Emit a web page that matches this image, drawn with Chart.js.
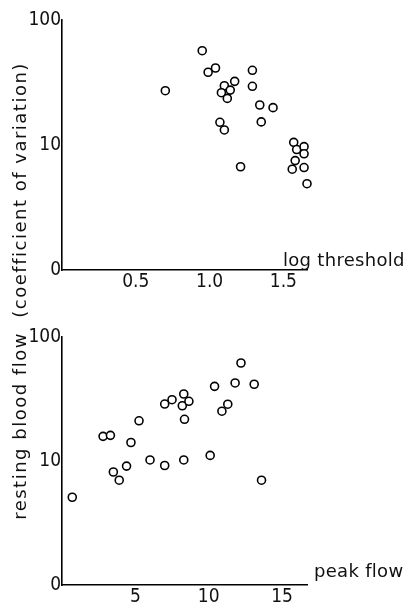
<!DOCTYPE html>
<html>
<head>
<meta charset="utf-8">
<script src="https://cdn.jsdelivr.net/npm/chart.js@4.4.1/dist/chart.umd.min.js"></script>
<style>
  html, body { margin: 0; padding: 0; background: #fff; }
  body { width: 407px; height: 607px; position: relative; overflow: hidden; }
  #c1 { position: absolute; left: 0; top: 0; }
  #c2 { position: absolute; left: 0; top: 300px; }
  .t { position: absolute; font-family: "DejaVu Sans", sans-serif; font-size: 18px; line-height: 18px; color: #111; white-space: nowrap; letter-spacing: 0.3px; }
  #ylab { left: -230px; top: 282px; width: 500px; text-align: center; transform: rotate(-90deg); font-size: 18px; letter-spacing: 1.5px; }
</style>
</head>
<body>
<canvas id="c1" width="407" height="300"></canvas>
<canvas id="c2" width="407" height="307"></canvas>
<div class="t" id="xl1" style="left:283px; top:251px;">log threshold</div>
<div class="t" id="xl2" style="left:314px; top:562px;">peak flow</div>
<div class="t" id="ylab">resting blood flow&nbsp;&nbsp;(coefficient of variation)</div>
<script>
// ---- data ----
const topX = [0.95, 0.70, 0.99, 1.04, 1.10, 1.08, 1.14, 1.12, 1.17, 1.07, 1.10, 1.29, 1.29, 1.34, 1.43, 1.35, 1.21, 1.57, 1.59, 1.64, 1.64, 1.58, 1.56, 1.64, 1.66];
const topY = [56.8, 27.2, 38.2, 41.3, 29.8, 26.2, 27.5, 23.6, 32.3, 15.2, 13.2, 39.6, 29.5, 20.9, 19.9, 15.3, 6.7, 10.5, 9.2, 9.7, 8.5, 7.5, 6.4, 6.6, 4.9];
const topXTicks = [0.5, 1.0, 1.5];

const botX = [0.7, 2.8, 3.3, 3.5, 3.9, 4.4, 4.7, 5.25, 6.0, 7.0, 7.0, 7.5, 8.3, 8.2, 8.65, 8.35, 8.3, 10.1, 10.4, 10.9, 11.3, 11.8, 12.2, 13.1, 13.6];
const botY = [5.1, 15.8, 16.1, 8.15, 7.0, 9.1, 14.1, 21.1, 10.2, 9.2, 28.8, 31.2, 34.7, 27.9, 30.3, 21.7, 10.2, 11.1, 40.0, 25.2, 28.7, 42.6, 61.7, 41.6, 7.0];
const botXTicks = [5, 10, 15];

const yTicks = [1, 10, 100];
const yTickLabels = ["0", "10", "100"];

const tickFont = { family: '"DejaVu Sans Condensed", "Liberation Sans Narrow", "DejaVu Sans", sans-serif', size: 19, weight: 'condensed' };

function makeChart(id, xs, ys, xTicks, xMax, xDecimals, padTop, xHeight) {
  const pts = xs.map((x, i) => ({ x: x, y: ys[i] }));
  return new Chart(document.getElementById(id), {
    type: 'scatter',
    data: { datasets: [{
      data: pts,
      clip: false,
      pointRadius: 4,
      pointHoverRadius: 4,
      pointBorderWidth: 1.6,
      pointBorderColor: '#000',
      pointBackgroundColor: '#fff'
    }]},
    options: {
      responsive: false,
      animation: false,
      events: [],
      layout: { padding: { top: padTop, right: 100, left: 0, bottom: 0 } },
      plugins: { legend: { display: false }, tooltip: { enabled: false } },
      scales: {
        x: {
          type: 'linear', min: 0, max: xMax,
          grid: { display: false, drawTicks: false },
          border: { display: true, color: '#000', width: 1.6 },
          afterBuildTicks: (s) => { s.ticks = xTicks.map(v => ({ value: v })); },
          afterFit: (s) => { s.height = xHeight; },
          ticks: { color: '#111', font: tickFont, padding: 1, maxRotation: 0, autoSkip: false,
            callback: (v) => xDecimals ? Number(v).toFixed(xDecimals) : String(v) }
        },
        y: {
          type: 'logarithmic', min: 1, max: 100,
          grid: { display: false, drawTicks: false },
          border: { display: true, color: '#000', width: 1.6 },
          afterBuildTicks: (s) => { s.ticks = yTicks.map(v => ({ value: v })); },
          afterFit: (s) => { s.width = 62; },
          ticks: { color: '#111', font: tickFont, padding: 1, autoSkip: false,
            callback: (v) => { const i = yTicks.indexOf(v); return i >= 0 ? yTickLabels[i] : ''; } }
        }
      }
    }
  });
}

makeChart('c1', topX, topY, topXTicks, 1.66, 1, 20, 30);
makeChart('c2', botX, botY, botXTicks, 16.7, 0, 37, 22);
</script>
</body>
</html>
